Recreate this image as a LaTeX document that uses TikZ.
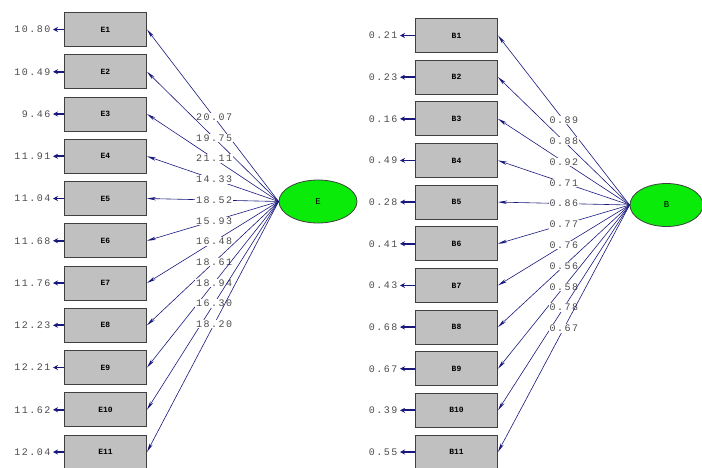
\documentclass[tikz,border=0pt]{standalone}
\usepackage{fontspec}
\usetikzlibrary{arrows.meta,shapes.geometric}
\newfontfamily\valfont[LetterSpace=15]{Liberation Mono}
\newfontfamily\lblfont{Liberation Mono}
\definecolor{navy}{RGB}{25,25,125}
\definecolor{boxgray}{RGB}{192,192,192}
\definecolor{latgreen}{RGB}{10,235,10}
\begin{document}
\begin{tikzpicture}[x=1pt,y=-1pt,
  obs/.style={draw=black!75, line width=1pt, fill=boxgray, minimum width=82pt,
    minimum height=34pt, inner sep=0pt, font=\lblfont\fontsize{8}{9}\selectfont\bfseries},
  lat/.style={ellipse, draw=black!75, line width=0.8pt, fill=latgreen, minimum width=78pt,
    minimum height=43pt, inner sep=0pt, font=\lblfont\fontsize{9}{10}\selectfont},
  val/.style={font=\valfont\fontsize{10}{11}\selectfont, text=black!70, inner sep=0.5pt},
  load/.style={draw=navy, line width=0.6pt, -{Stealth[length=9pt,width=3.4pt]}},
  err/.style={draw=navy, line width=1.8pt, -{Stealth[length=5pt,width=5pt]}},
  lab/.style={val, fill=white, pos=0.49, inner sep=0.8pt}]
\useasboundingbox (0,0) rectangle (702,467);
% left model
\node[lat] (LE) at (318,201.5) {E};
\foreach \i/\y/\e/\l in {1/29.5/10.80/20.07, 2/71.75/10.49/19.75, 3/114/9.46/21.11,
  4/156.25/11.91/14.33, 5/198.5/11.04/18.52, 6/240.75/11.68/15.93, 7/283/11.76/16.48,
  8/325.25/12.23/18.61, 9/367.5/12.21/18.94, 10/409.75/11.62/16.30, 11/452/12.04/18.20}{
  \node[obs] (L\i) at (105.5,\y) {E\i};
  \coordinate (LC\i) at (53,\y);
  \node[val, anchor=east] (LV\i) at (51,\y) {\e};
  \draw[err] (L\i.west) -- (LC\i);
  \draw[load] (LE.west) -- (L\i.east) node[lab] {\l};
}
% right model
\node[lat, minimum width=73pt] (RB) at (666.5,205) {B};
\foreach \i/\y/\e/\l in {1/35.5/0.21/0.89, 2/77.15/0.23/0.88, 3/118.8/0.16/0.92,
  4/160.45/0.49/0.71, 5/202.1/0.28/0.86, 6/243.75/0.41/0.77, 7/285.4/0.43/0.76,
  8/327.05/0.68/0.56, 9/368.7/0.67/0.58, 10/410.35/0.39/0.78, 11/452/0.55/0.67}{
  \node[obs] (R\i) at (456.5,\y) {B\i};
  \coordinate (RC\i) at (400,\y);
  \node[val, anchor=east] (RV\i) at (398,\y) {\e};
  \draw[err] (R\i.west) -- (RC\i);
  \draw[load] (RB.west) -- (R\i.east) node[lab, pos=0.5] {\l};
}
\end{tikzpicture}
\end{document}
